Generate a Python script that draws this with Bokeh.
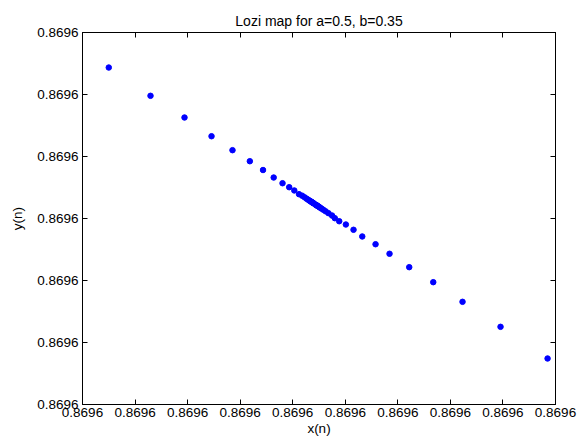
from bokeh.plotting import figure
from bokeh.models import Range1d, FixedTicker, PrintfTickFormatter, LinearAxis
from bokeh.embed import file_html
from bokeh.resources import INLINE

title_text = "Lozi map for a=0.5, b=0.35"
x_label = "x(n)"
y_label = "y(n)"

# axis limits and tick positions (all labelled 0.8696 at 4 decimals)
x_min, x_step, x_count = 0.869564, 1e-7, 10
y_min, y_step, y_count = 0.869564, 1e-7, 7
x_ticks = [x_min + i * x_step for i in range(x_count)]
y_ticks = [y_min + i * y_step for i in range(y_count)]

# iterates
x_n = [0.8695648849, 0.8695640500, 0.8695647954, 0.8695641294, 0.8695647231,
       0.8695641941, 0.8695646674, 0.8695642455, 0.8695646217, 0.8695642854,
       0.8695645842, 0.8695643184, 0.8695645576, 0.8695643435, 0.8695645323,
       0.8695643638, 0.8695645157, 0.8695643806, 0.8695645011, 0.8695643933,
       0.8695644885, 0.8695644030, 0.8695644801, 0.8695644120, 0.8695644748,
       0.8695644179, 0.8695644680, 0.8695644227, 0.8695644626, 0.8695644265,
       0.8695644582, 0.8695644295, 0.8695644548, 0.8695644320, 0.8695644522,
       0.8695644339, 0.8695644501, 0.8695644354, 0.8695644482, 0.8695644367,
       0.8695644468, 0.8695644379, 0.8695644457, 0.8695644390, 0.8695644445,
       0.8695644402, 0.8695644434]
y_n = [0.8695640742, 0.8695645435, 0.8695641253, 0.8695644979, 0.8695641656,
       0.8695644629, 0.8695641973, 0.8695644327, 0.8695642215, 0.8695644102,
       0.8695642431, 0.8695643924, 0.8695642585, 0.8695643782, 0.8695642710,
       0.8695643661, 0.8695642818, 0.8695643569, 0.8695642903, 0.8695643505,
       0.8695642956, 0.8695643452, 0.8695643005, 0.8695643392, 0.8695643048,
       0.8695643368, 0.8695643086, 0.8695643341, 0.8695643116, 0.8695643319,
       0.8695643141, 0.8695643302, 0.8695643160, 0.8695643288, 0.8695643175,
       0.8695643278, 0.8695643187, 0.8695643269, 0.8695643198, 0.8695643262,
       0.8695643205, 0.8695643255, 0.8695643211, 0.8695643249, 0.8695643218,
       0.8695643242, 0.8695643224]

FONT = "Liberation Sans"

p = figure(width=585, height=442, output_backend="svg", toolbar_location=None,
           x_range=Range1d(x_min, x_min + (x_count - 1) * x_step),
           y_range=Range1d(y_min, y_min + (y_count - 1) * y_step),
           min_border_left=82, min_border_right=30, min_border_top=32,
           min_border_bottom=38, title=title_text)

p.title.align = "center"
p.title.text_font = FONT
p.title.text_font_size = "14px"
p.title.text_font_style = "normal"
p.title.text_color = "black"
p.title.offset = 0
p.title.standoff = 8

p.xgrid.visible = False
p.ygrid.visible = False
p.outline_line_color = "black"
p.outline_line_width = 1
p.background_fill_color = "white"
p.border_fill_color = "white"

fmt = PrintfTickFormatter(format="%.4f")

for ax, ticks in ((p.xaxis[0], x_ticks), (p.yaxis[0], y_ticks)):
    ax.ticker = FixedTicker(ticks=ticks)
    ax.formatter = fmt
    ax.major_tick_in = 5
    ax.major_tick_out = 0
    ax.minor_tick_line_color = None
    ax.axis_line_color = "black"
    ax.major_tick_line_color = "black"
    ax.major_label_text_font = FONT
    ax.major_label_text_font_size = "13.5px"
    ax.major_label_text_color = "black"
    ax.axis_label_text_font = FONT
    ax.axis_label_text_font_size = "13.5px"
    ax.axis_label_text_font_style = "normal"
    ax.axis_label_text_color = "black"

p.xaxis[0].axis_label = x_label
p.yaxis[0].axis_label = y_label
p.xaxis[0].major_label_standoff = 3
p.yaxis[0].major_label_standoff = 4
p.xaxis[0].axis_label_standoff = 1
p.yaxis[0].axis_label_standoff = 9

top_axis = LinearAxis(ticker=FixedTicker(ticks=x_ticks), major_label_text_font_size="0px",
                      major_tick_in=5, major_tick_out=0, minor_tick_line_color=None,
                      axis_line_color="black", major_label_standoff=0)
right_axis = LinearAxis(ticker=FixedTicker(ticks=y_ticks), major_label_text_font_size="0px",
                        major_tick_in=5, major_tick_out=0, minor_tick_line_color=None,
                        axis_line_color="black", major_label_standoff=0)
top_axis.major_label_text_color = None
right_axis.major_label_text_color = None
p.add_layout(top_axis, "above")
p.add_layout(right_axis, "right")

p.scatter(x_n, y_n, size=5.5, marker="circle", fill_color="#0000ff", line_color="#0000ff")

open("out.html", "w").write(file_html(p, INLINE))
